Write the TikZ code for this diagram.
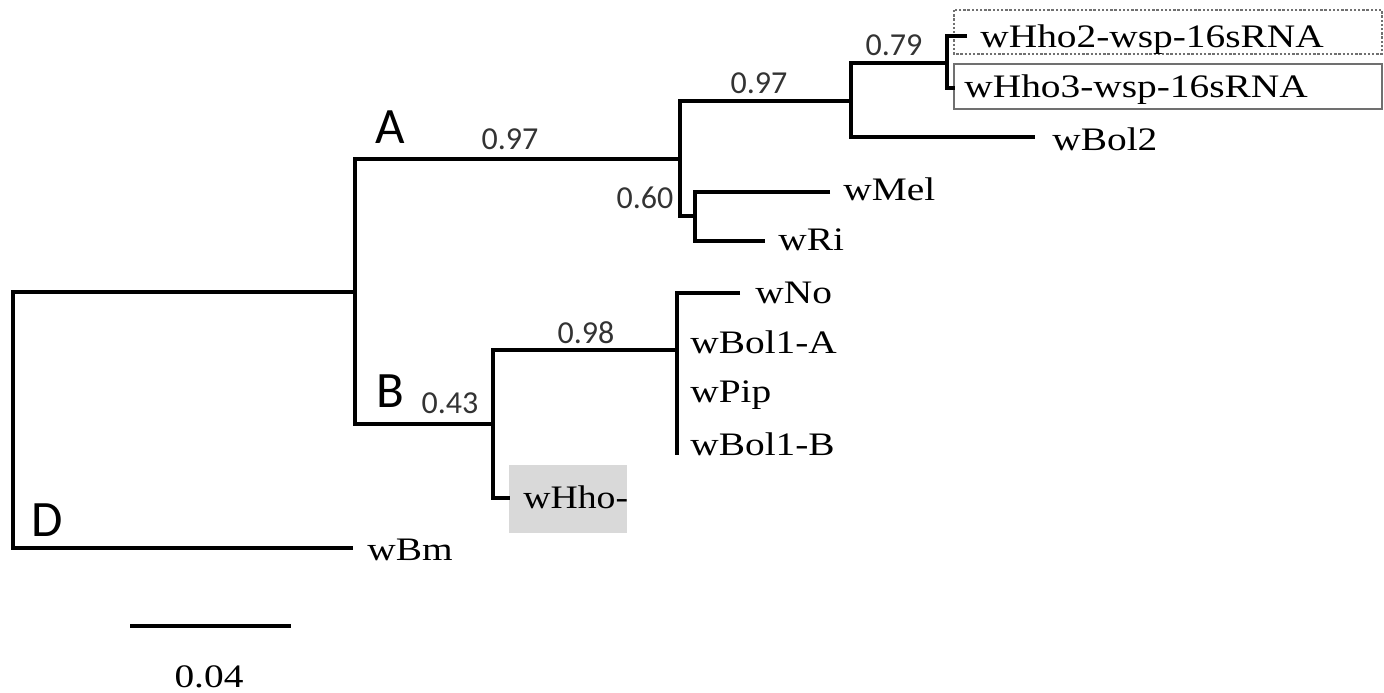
\documentclass[tikz,border=0pt]{standalone}
\usepackage{fontspec}
\usepackage{graphicx}
\newfontfamily\taxfont{Liberation Serif}
\newfontfamily\supfont{Carlito}
\definecolor{boxgray}{HTML}{D9D9D9}
\definecolor{edgegray}{HTML}{707070}
\begin{document}
\begin{tikzpicture}[x=0.5pt,y=-0.5pt,
  branch/.style={line width=1.8pt,black},
  taxon/.style={anchor=base west,inner sep=0pt,font=\taxfont\fontsize{16.4}{18}\selectfont},
  support/.style={anchor=center,inner sep=0pt,font=\supfont\fontsize{16}{18}\selectfont,text=black!80},
  clade/.style={anchor=center,inner sep=0pt,font=\supfont\fontsize{25.5}{28}\selectfont},
  dashbox/.style={draw=edgegray,line width=0.7pt,dash pattern=on 1.2pt off 0.9pt},
  solidbox/.style={draw=edgegray,line width=0.9pt}
  ]
\useasboundingbox (0,0) rectangle (1384,692);
% highlight boxes
\draw[dashbox] (954,10) rectangle (1382,54);
\draw[solidbox] (954,64) rectangle (1382,109);
\fill[boxgray] (509,465) rectangle (627,533);
% internal nodes
\coordinate (root) at (13,420);
\coordinate (ab) at (355,292);
\coordinate (A) at (680,159);
\coordinate (B) at (493,424);
\coordinate (A1) at (851,101);
\coordinate (nHho) at (947,63);
\coordinate (n060) at (695,216);
\coordinate (n098) at (677,350);
% tips
\coordinate (tHho2) at (967,36);
\coordinate (tHho3) at (955,88);
\coordinate (tBol2) at (1035,137);
\coordinate (tMel) at (830,192);
\coordinate (tRi) at (765,241);
\coordinate (tNo) at (740,293);
\coordinate (b098) at (677,455);
\coordinate (tHho) at (510,498);
\coordinate (tBm) at (353,548);
% branches
\draw[branch] (ab) -| (root) |- (tBm);
\draw[branch] (A) -| (ab) |- (B);
\draw[branch] (A1) -| (A) |- (n060);
\draw[branch] (nHho) -| (A1) |- (tBol2);
\draw[branch] (tHho2) -| (nHho) |- (tHho3);
\draw[branch] (tMel) -| (n060) |- (tRi);
\draw[branch] (n098) -| (B) |- (tHho);
\draw[branch] (tNo) -| (n098) -- (b098);
% taxon labels
\node[taxon] (lHho2) at (980,47) {\scalebox{1.2}[1]{wHho2-wsp-16sRNA}};
\node[taxon] (lHho3) at (964,97) {\scalebox{1.2}[1]{wHho3-wsp-16sRNA}};
\node[taxon] (lBol2) at (1052,150) {\scalebox{1.2}[1]{wBol2}};
\node[taxon] (lMel) at (843,200) {\scalebox{1.2}[1]{wMel}};
\node[taxon] (lRi) at (778,250) {\scalebox{1.2}[1]{wRi}};
\node[taxon] (lNo) at (755,303) {\scalebox{1.2}[1]{wNo}};
\node[taxon] (lBol1A) at (690,353) {\scalebox{1.2}[1]{wBol1-A}};
\node[taxon] (lPip) at (690,402) {\scalebox{1.2}[1]{wPip}};
\node[taxon] (lBol1B) at (690,455) {\scalebox{1.2}[1]{wBol1-B}};
\node[taxon] (lHho) at (523,508) {\scalebox{1.15}[1]{wHho-}};
\node[taxon] (lBm) at (367,560) {\scalebox{1.2}[1]{wBm}};
% support values
\node[support] (s079) at (894,45) {0.79};
\node[support] (s097a) at (759,83) {0.97};
\node[support] (s097b) at (510,139) {0.97};
\node[support] (s060) at (645,198) {0.60};
\node[support] (s098) at (586,333) {0.98};
\node[support] (s043) at (450,403) {0.43};
% clade letters
\node[clade] (cA) at (390,127) {A};
\node[clade] (cB) at (390,391) {B};
\node[clade] (cD) at (47,520) {D};
% scale bar
\coordinate (sb1) at (130,626);
\coordinate (sb2) at (291,626);
\draw[branch] (sb1) -- (sb2);
\node[taxon,anchor=base] (sblab) at (209,687) {\scalebox{1.2}[1]{0.04}};
\end{tikzpicture}
\end{document}
